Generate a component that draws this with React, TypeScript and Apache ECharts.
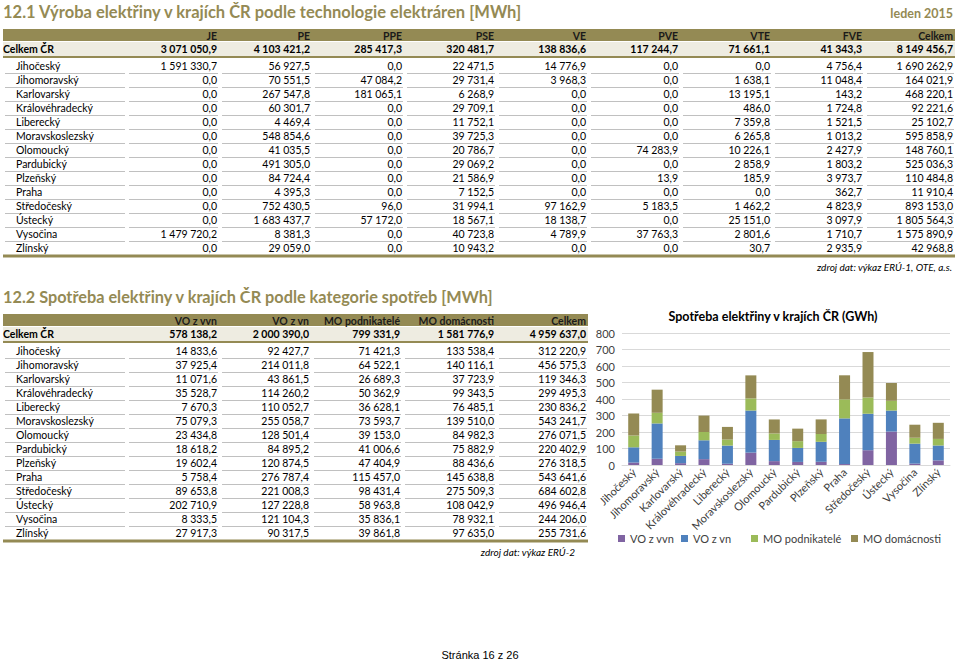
import React, { useEffect, useRef } from "react";
import * as echarts from "echarts";

// ---------- DATA ----------
const regions = [
  "Jihočeský", "Jihomoravský", "Karlovarský", "Královéhradecký", "Liberecký",
  "Moravskoslezský", "Olomoucký", "Pardubický", "Plzeňský", "Praha",
  "Středočeský", "Ústecký", "Vysočina", "Zlínský",
];

// Table 12.1 – production by technology [MWh]
const techHeaders = ["JE", "PE", "PPE", "PSE", "VE", "PVE", "VTE", "FVE", "Celkem"];
const techTotals = [3071050.9, 4103421.2, 285417.3, 320481.7, 138836.6, 117244.7, 71661.1, 41343.3, 8149456.7];
const techJE = [1591330.7, 0, 0, 0, 0, 0, 0, 0, 0, 0, 0, 0, 1479720.2, 0];
const techPE = [56927.5, 70551.5, 267547.8, 60301.7, 4469.4, 548854.6, 41035.5, 491305.0, 84724.4, 4395.3, 752430.5, 1683437.7, 8381.3, 29059.0];
const techPPE = [0, 47084.2, 181065.1, 0, 0, 0, 0, 0, 0, 0, 96.0, 57172.0, 0, 0];
const techPSE = [22471.5, 29731.4, 6268.9, 29709.1, 11752.1, 39725.3, 20786.7, 29069.2, 21586.9, 7152.5, 31994.1, 18567.1, 40723.8, 10943.2];
const techVE = [14776.9, 3968.3, 0, 0, 0, 0, 0, 0, 0, 0, 97162.9, 18138.7, 4789.9, 0];
const techPVE = [0, 0, 0, 0, 0, 0, 74283.9, 0, 13.9, 0, 5183.5, 0, 37763.3, 0];
const techVTE = [0, 1638.1, 13195.1, 486.0, 7359.8, 6265.8, 10226.1, 2858.9, 185.9, 0, 1462.2, 25151.0, 2801.6, 30.7];
const techFVE = [4756.4, 11048.4, 143.2, 1724.8, 1521.5, 1013.2, 2427.9, 1803.2, 3973.7, 362.7, 4823.9, 3097.9, 1710.7, 2935.9];
const techCelkem = [1690262.9, 164021.9, 468220.1, 92221.6, 25102.7, 595858.9, 148760.1, 525036.3, 110484.8, 11910.4, 893153.0, 1805564.3, 1575890.9, 42968.8];

// Table 12.2 – consumption by category [MWh]
const useHeaders = ["VO z vvn", "VO z vn", "MO podnikatelé", "MO domácnosti", "Celkem"];
const useTotals = [578138.2, 2000390.0, 799331.9, 1581776.9, 4959637.0];
const useVvn = [14833.6, 37925.4, 11071.6, 35528.7, 7670.3, 75079.3, 23434.8, 18618.2, 19602.4, 5758.4, 89653.8, 202710.9, 8333.5, 27917.3];
const useVn = [92427.7, 214011.8, 43861.5, 114260.2, 110052.7, 255058.7, 128501.4, 84895.2, 120874.5, 276787.4, 221008.3, 127228.8, 121104.3, 90317.5];
const useMoPod = [71421.3, 64522.1, 26689.3, 50362.9, 36628.1, 73593.7, 39153.0, 41006.6, 47404.9, 115457.0, 98431.4, 58963.8, 35836.1, 39861.8];
const useMoDom = [133538.4, 140116.1, 37723.9, 99343.5, 76485.1, 139510.0, 84982.3, 75882.9, 88436.6, 145638.8, 275509.3, 108042.9, 78932.1, 97635.0];
const useCelkem = [312220.9, 456575.3, 119346.3, 299495.3, 230836.2, 543241.7, 276071.5, 220402.9, 276318.5, 543641.6, 684602.8, 496946.4, 244206.0, 255731.6];

const yTicks = [0, 100, 200, 300, 400, 500, 600, 700, 800];

// ---------- STYLE ----------
const OLIVE = "#948A54";
const BEIGE = "#EEECE1";
const FONT = "Lato";
const TXT = 10.5;

const fmt = (v: number) => {
  const [i, d] = v.toFixed(1).split(".");
  return i.replace(/\B(?=(\d{3})+(?!\d))/g, " ") + "," + d;
};

function text(x: number, y: number, t: string, o: any = {}) {
  return {
    type: "text",
    silent: true,
    x,
    y,
    style: {
      text: t,
      fill: o.fill || "#000000",
      fontFamily: o.family || FONT,
      fontSize: o.size || TXT,
      fontWeight: o.weight || "normal",
      fontStyle: o.style || "normal",
      align: o.align || "right",
      verticalAlign: "middle",
    },
  };
}
function rect(x: number, y: number, w: number, h: number, fill: string) {
  return { type: "rect", silent: true, shape: { x, y, width: w, height: h }, style: { fill } };
}
function line(x1: number, y1: number, x2: number, y2: number, stroke: string, lw: number) {
  return { type: "line", silent: true, shape: { x1, y1, x2, y2 }, style: { stroke, lineWidth: lw } };
}

function buildTable(top: number, colRights: number[], headers: string[], totals: number[], cols: number[][], source: string, sourceRight: number) {
  const els: any[] = [];
  const left = 3;
  const right = colRights[colRights.length - 1] + 2;
  const step = 14;
  const row0 = top + 37;
  // header bar
  els.push(rect(left, top, right - left, 12, OLIVE));
  headers.forEach((h, j) => els.push(text(colRights[j], top + 6.5, h, { weight: "bold", fill: "#1a1a1a" })));
  // total row
  els.push(rect(left, top + 13, right - left, 14, BEIGE));
  els.push(text(left, top + 20, "Celkem ČR", { align: "left", weight: "bold" }));
  totals.forEach((v, j) => els.push(text(colRights[j], top + 20, fmt(v), { weight: "bold" })));
  els.push(line(left, top + 28, right, top + 28, OLIVE, 2));
  // region rows
  regions.forEach((r, i) => {
    const cy = row0 + i * step;
    els.push(text(16, cy, r, { align: "left" }));
    cols.forEach((c, j) => els.push(text(colRights[j], cy, fmt(c[i]))));
    if (i < regions.length - 1) {
      const uy = cy + 7.5;
      els.push(line(5, uy, 125, uy, "#C0C0C0", 1));
      colRights.forEach((cr, j) => {
        const start = j === 0 ? 129 : colRights[j - 1] + 5;
        els.push(line(start, uy, cr + 1, uy, "#C0C0C0", 1));
      });
    }
  });
  const by = row0 + 13 * step + 8;
  els.push(line(left, by, right, by, OLIVE, 3));
  els.push(text(sourceRight, by + 11, source, { style: "italic", size: 10 }));
  return els;
}

export default function App() {
  const ref = useRef<HTMLDivElement>(null);
  useEffect(() => {
    if (!ref.current) return;
    const chart = echarts.init(ref.current, undefined, { renderer: "svg" });

    const t1 = buildTable(
      29,
      [217, 310, 402, 494, 586, 678, 770, 862, 953],
      techHeaders,
      techTotals,
      [techJE, techPE, techPPE, techPSE, techVE, techPVE, techVTE, techFVE, techCelkem],
      "zdroj dat: výkaz ERÚ-1, OTE, a.s.",
      952
    );
    const t2 = buildTable(
      314,
      [217, 309, 400, 494, 586],
      useHeaders,
      useTotals,
      [useVvn, useVn, useMoPod, useMoDom, useCelkem],
      "zdroj dat: výkaz ERÚ-2",
      575
    );

    const graphic: any[] = [
      text(3, 12, "12.1 Výroba elektřiny v krajích ČR podle technologie elektráren [MWh]", { align: "left", size: 16.5, weight: "bold", fill: OLIVE }),
      text(953, 13, "leden 2015", { size: 12.5, weight: "bold", fill: OLIVE }),
      text(3, 296, "12.2 Spotřeba elektřiny v krajích ČR podle kategorie spotřeb [MWh]", { align: "left", size: 16.3, weight: "bold", fill: OLIVE }),
      text(773, 316, "Spotřeba elektřiny v krajích ČR (GWh)", { align: "center", size: 12.5, weight: "bold" }),
      text(480, 655, "Stránka 16 z 26", { align: "center", size: 11, family: "Liberation Sans" }),
      ...t1,
      ...t2,
    ];

    const seriesDef = [
      { name: "VO z vvn", data: useVvn, color: "#8064A2" },
      { name: "VO z vn", data: useVn, color: "#4F81BD" },
      { name: "MO podnikatelé", data: useMoPod, color: "#9BBB59" },
      { name: "MO domácnosti", data: useMoDom, color: "#948A54" },
    ];
    const legendLefts = [618, 681, 751, 851];

    chart.setOption({
      animation: false,
      textStyle: { fontFamily: FONT },
      graphic,
      grid: { left: 622, right: 9, top: 333, bottom: 200, containLabel: false },
      xAxis: {
        type: "category",
        data: regions,
        axisTick: { show: false },
        axisLine: { lineStyle: { color: "#D9D9D9" } },
        axisLabel: { rotate: 45, interval: 0, fontSize: 11, color: "#404040", margin: 5, fontFamily: FONT },
      },
      yAxis: {
        type: "value",
        min: yTicks[0],
        max: yTicks[yTicks.length - 1],
        interval: 100,
        axisLine: { show: false },
        axisTick: { show: false },
        axisLabel: { fontSize: 11, color: "#404040", margin: 7, fontFamily: FONT },
        splitLine: { lineStyle: { color: "#D9D9D9" } },
      },
      legend: seriesDef.map((s, k) => ({
        data: [s.name],
        left: legendLefts[k],
        top: 533,
        icon: "rect",
        itemWidth: 7,
        itemHeight: 7,
        itemGap: 5,
        padding: 0,
        textStyle: { fontSize: 11, color: "#404040", fontFamily: FONT },
      })),
      series: seriesDef.map((s) => ({
        name: s.name,
        type: "bar",
        stack: "total",
        barWidth: 11,
        itemStyle: { color: s.color },
        data: s.data.map((v) => v / 1000),
      })),
    });
    return () => chart.dispose();
  }, []);
  return (
    <div
      ref={ref}
      style={{ position: "absolute", left: 0, top: 0, width: 959, height: 665, background: "#ffffff" }}
    />
  );
}
